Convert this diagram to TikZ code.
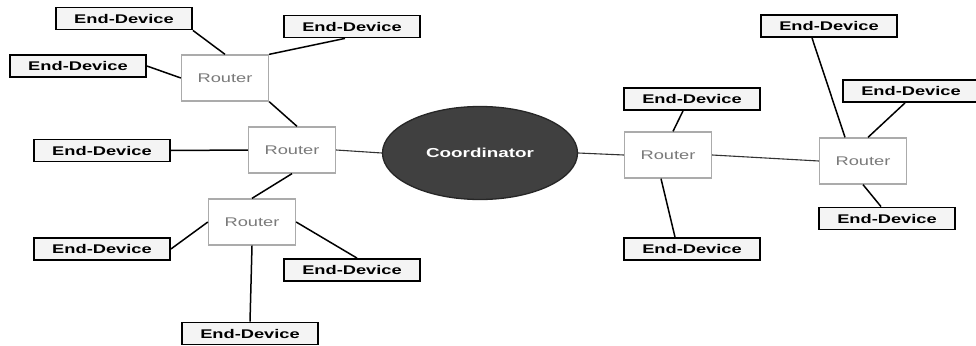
\documentclass[tikz,border=0pt]{standalone}
\usepackage{fontspec}
\usetikzlibrary{shapes.geometric}

% wide sans face for all labels
\newfontfamily\netfont{Liberation Sans}[FakeStretch=1.45]

\definecolor{devicefill}{HTML}{F4F4F4}
\definecolor{routerline}{HTML}{ABABAB}
\definecolor{routertext}{HTML}{7A7A7A}
\definecolor{coordfill}{HTML}{404040}

\begin{document}
\begin{tikzpicture}[x=1pt, y=-1pt,
    device/.style={draw=black, line width=1.8pt, fill=devicefill,
        minimum width=136pt, minimum height=22pt, inner sep=0pt,
        font=\netfont\bfseries\fontsize{12.6}{14}\selectfont},
    router/.style={draw=routerline, line width=1.3pt, fill=white,
        minimum width=87pt, minimum height=46pt, inner sep=0pt,
        text=routertext, font=\netfont\fontsize{12.6}{14}\selectfont},
    coordinator/.style={ellipse, draw=black!85, line width=1.3pt, fill=coordfill,
        minimum width=195pt, minimum height=93pt, inner sep=0pt,
        text=white, font=\netfont\bfseries\fontsize{13}{15}\selectfont},
    link/.style={line width=1.5pt},
    trunk/.style={line width=1.1pt, draw=black!80}]

    % Page area (1pt per pixel, y pointing down)
    \useasboundingbox (0,0) rectangle (976,345);

    % The coordinator in the middle
    \node[coordinator] (C) at (480,153) {Coordinator};

    % Routers, left branch and right branch
    \node[router] (R1) at (225,78) {Router};
    \node[router] (R2) at (292,150) {Router};
    \node[router] (R3) at (252,222) {Router};
    \node[router] (R4) at (668,155) {Router};
    \node[router] (R5) at (863,161) {Router};

    % End devices around the routers
    \node[device] (E1) at (124,18.5) {End-Device};
    \node[device] (E2) at (352,26.5) {End-Device};
    \node[device] (E3) at (78,66) {End-Device};
    \node[device] (E4) at (102,150.5) {End-Device};
    \node[device] (E5) at (102,249) {End-Device};
    \node[device] (E6) at (352,270) {End-Device};
    \node[device] (E7) at (250,333.5) {End-Device};
    \node[device] (E8) at (692,99) {End-Device};
    \node[device] (E9) at (692,249) {End-Device};
    \node[device] (E10) at (911,91) {End-Device};
    \node[device] (E11) at (887,218.5) {End-Device};
    \node[device] (E12) at (829,26) {End-Device};

    % Links of the left branch
    \draw[link] (E1.south east) -- (R1.north);
    \draw[link] ([xshift=-7pt]E2.south) -- (R1.north east);
    \draw[link] (E3.east) -- (R1.west);
    \draw[link] (R1.south east) -- ([xshift=5pt]R2.north);
    \draw[link] (E4.east) -- (R2.west);
    \draw[trunk] (R2.east) -- (C.west);
    \draw[link] (R2.south) -- (R3.north);
    \draw[link] (R3.west) -- (E5.east);
    \draw[link] (R3.east) -- ([xshift=5pt]E6.north);
    \draw[link] (R3.south) -- (E7.north);

    % Links of the right branch
    \draw[trunk] (C.east) -- (R4.west);
    \draw[link] ([xshift=-9pt]E8.south) -- ([xshift=5pt]R4.north);
    \draw[link] ([xshift=-7pt]R4.south) -- ([xshift=-17pt]E9.north);
    \draw[trunk] (R4.east) -- (R5.west);
    \draw[link] ([xshift=-18pt]R5.north) -- ([xshift=-17pt]E12.south);
    \draw[link] ([xshift=5pt]R5.north) -- ([xshift=-6pt]E10.south);
    \draw[link] (R5.south) -- ([xshift=-6pt]E11.north);

\end{tikzpicture}
\end{document}
